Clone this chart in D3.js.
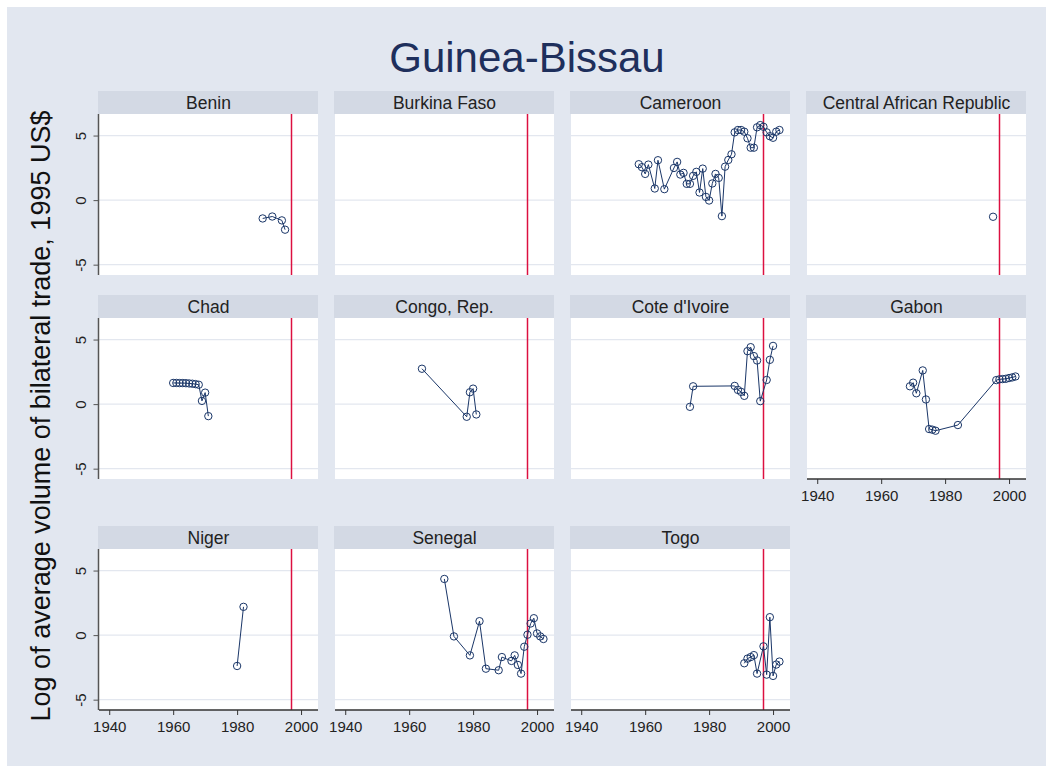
<!DOCTYPE html>
<html><head><meta charset="utf-8">
<script src="https://cdn.jsdelivr.net/npm/d3@7"></script>
<style>body{margin:0;background:#fff} text{font-family:Arial,"Liberation Sans",sans-serif}</style>
</head><body><svg id="c" width="1053" height="773"></svg>
<script>
const chartTitle = "Guinea-Bissau";
const yTitle = "Log of average volume of bilateral trade, 1995 US$";
const panelNames = ["Benin","Burkina Faso","Cameroon","Central African Republic","Chad","Congo, Rep.","Cote d'Ivoire","Gabon","Niger","Senegal","Togo"];
const xTicks = [1940,1960,1980,2000];
const yTicks = [-5,0,5];
const refYear = 1997;

const beninYears = [1988,1991,1994,1995];
const beninValues = [-1.42,-1.27,-1.57,-2.29];
const burkinaYears = [];
const burkinaValues = [];
const cameroonYears = [1958,1959,1960,1961,1963,1964,1966,1969,1970,1971,1972,1973,1974,1975,1976,1977,1978,1979,1980,1981,1982,1983,1984,1985,1986,1987,1988,1989,1990,1991,1992,1993,1994,1995,1996,1997,1998,1999,2000,2001,2002];
const cameroonValues = [2.78,2.55,2.03,2.75,0.90,3.09,0.85,2.49,2.96,1.98,2.11,1.26,1.26,1.88,2.19,0.59,2.44,0.25,-0.03,1.29,2.03,1.72,-1.24,2.59,3.11,3.55,5.25,5.43,5.43,5.30,4.79,4.06,4.06,5.64,5.81,5.68,5.25,4.95,4.83,5.30,5.43];
const carYears = [1995];
const carValues = [-1.29];
const chadYears = [1960,1961,1962,1963,1964,1965,1966,1967,1968,1969,1970,1971];
const chadValues = [1.64,1.64,1.63,1.63,1.62,1.60,1.58,1.55,1.50,0.25,0.89,-0.93];
const congoYears = [1964,1978,1979,1980,1981];
const congoValues = [2.74,-0.98,0.92,1.20,-0.80];
const coteYears = [1974,1975,1988,1989,1990,1991,1992,1993,1994,1995,1996,1998,1999,2000];
const coteValues = [-0.21,1.38,1.41,1.10,0.95,0.64,4.10,4.41,3.72,3.38,0.23,1.87,3.43,4.51];
const gabonYears = [1969,1970,1971,1973,1974,1975,1976,1977,1984,1996,1997,1998,1999,2000,2001,2002];
const gabonValues = [1.38,1.66,0.84,2.61,0.36,-1.93,-1.98,-2.06,-1.62,1.86,1.92,1.94,1.96,2.02,2.07,2.14];
const nigerYears = [1980,1982];
const nigerValues = [-2.39,2.19];
const senegalYears = [1971,1974,1979,1982,1984,1988,1989,1992,1993,1994,1995,1996,1997,1998,1999,2000,2001,2002];
const senegalValues = [4.35,-0.10,-1.57,1.08,-2.60,-2.72,-1.70,-2.00,-1.57,-2.31,-2.98,-0.90,0.03,0.90,1.31,0.13,-0.10,-0.30];
const togoYears = [1991,1992,1993,1994,1995,1997,1998,1999,2000,2001,2002];
const togoValues = [-2.18,-1.82,-1.70,-1.55,-2.98,-0.87,-3.06,1.39,-3.16,-2.28,-2.05];

const seriesYears = [beninYears,burkinaYears,cameroonYears,carYears,chadYears,congoYears,coteYears,gabonYears,nigerYears,senegalYears,togoYears];
const seriesValues = [beninValues,burkinaValues,cameroonValues,carValues,chadValues,congoValues,coteValues,gabonValues,nigerValues,senegalValues,togoValues];

const svg = d3.select("#c");
const W = 1053, H = 773;
svg.append("rect").attr("width",W).attr("height",H).attr("fill","#fff");
svg.append("rect").attr("x",7).attr("y",7).attr("width",W-14).attr("height",H-14).attr("fill","#e2e7f0");

svg.append("text").attr("x",527).attr("y",72).attr("text-anchor","middle")
  .attr("font-size",42).attr("fill","#1e2f5c").text(chartTitle);
svg.append("text").attr("transform","translate(50,416) rotate(-90)").attr("text-anchor","middle")
  .attr("font-size",27).attr("fill","#111").text(yTitle);

const colLeft = [99,335,571,807];
const stripTop = [91,295,526];
const plotW = 219, stripH = 23, plotH = 161;
const navy = "#1a3668";

const x = d3.scaleLinear().domain([1936.8,2005.3]).range([0,plotW]);
const y = d3.scaleLinear().domain([-5.8,6.67]).range([plotH,0]);
const fmt = d => String(d);

panelNames.forEach((name,i)=>{
  const r = Math.floor(i/4), c = i%4;
  const g = svg.append("g").attr("transform",`translate(${colLeft[c]},${stripTop[r]})`);
  g.append("rect").attr("x",-1).attr("y",0).attr("width",plotW+1).attr("height",stripH).attr("fill","#d3d9e4");
  g.append("text").attr("x",plotW/2).attr("y",stripH/2+6).attr("text-anchor","middle")
    .attr("font-size",17.5).attr("fill","#222").text(name);
  const p = g.append("g").attr("transform",`translate(0,${stripH})`);
  p.append("rect").attr("width",plotW).attr("height",plotH).attr("fill","#fff");
  p.selectAll("line.grid").data(yTicks).enter().append("line")
    .attr("x1",0).attr("x2",plotW).attr("y1",d=>y(d)).attr("y2",d=>y(d))
    .attr("stroke","#e3e7ef").attr("stroke-width",1.3);
  p.append("line").attr("x1",Math.round(x(refYear))+0.5).attr("x2",Math.round(x(refYear))+0.5).attr("y1",0).attr("y2",plotH)
    .attr("stroke","#dc1040").attr("stroke-width",1.5);
  const pts = seriesYears[i].map((yr,k)=>[yr,seriesValues[i][k]]);
  if(pts.length>1){
    p.append("path").datum(pts).attr("fill","none").attr("stroke",navy).attr("stroke-width",1)
      .attr("d",d3.line().x(d=>x(d[0])).y(d=>y(d[1])));
  }
  p.selectAll("circle").data(pts).enter().append("circle")
    .attr("cx",d=>x(d[0])).attr("cy",d=>y(d[1])).attr("r",3.7)
    .attr("fill","none").attr("stroke",navy).attr("stroke-width",1);
  if(c===0){
    const ya = p.append("g").attr("transform","translate(-0.5,0)")
      .call(d3.axisLeft(y).tickValues(yTicks).tickSize(5).tickFormat(fmt));
    ya.select(".domain").attr("stroke","#555").attr("stroke-width",1.5).attr("d",`M0,0V${plotH}`);
    ya.selectAll(".tick line").attr("stroke","#555");
    ya.selectAll(".tick text").attr("font-size",15).attr("fill","#222").attr("font-family","Arial,'Liberation Sans',sans-serif")
      .attr("transform","rotate(-90)").attr("x",0).attr("y",-13).attr("dy",0).attr("text-anchor","middle");
  }
  if(i===7 || r===2){
    const xa = p.append("g").attr("transform",`translate(0,${plotH})`)
      .call(d3.axisBottom(x).tickValues(xTicks).tickSize(5).tickFormat(fmt));
    xa.select(".domain").attr("stroke","#333").attr("stroke-width",1.3).attr("d",`M0,0H${plotW}`);
    xa.selectAll(".tick line").attr("stroke","#333");
    xa.selectAll(".tick text").attr("font-size",15).attr("fill","#222").attr("font-family","Arial,'Liberation Sans',sans-serif").attr("y",10).attr("dy","0.8em");
  }
});
</script></body></html>
